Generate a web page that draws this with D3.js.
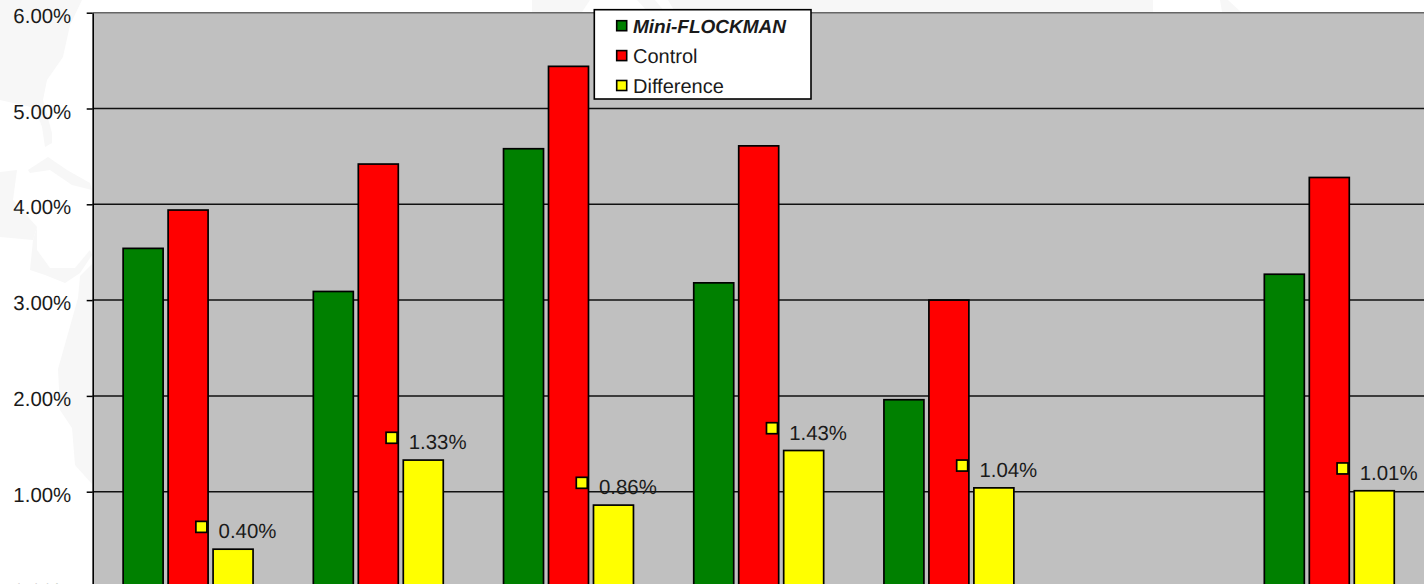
<!DOCTYPE html>
<html>
<head>
<meta charset="utf-8">
<script src="https://cdn.jsdelivr.net/npm/d3@7"></script>
<style>
  html, body { margin: 0; padding: 0; background: #fff; overflow: hidden; }
  svg { display: block; }
  text { font-family: "Liberation Sans", Arial, sans-serif; font-size: 20.4px; fill: #1a1a1a; text-rendering: geometricPrecision; }
</style>
</head>
<body>
<svg id="chart" width="1424" height="584"></svg>
<script>
const categories = ["Group 1", "Group 2", "Group 3", "Group 4", "Group 5", "Group 6", "Group 7"];
const seriesNames = ["Mini-FLOCKMAN", "Control", "Difference"];
const seriesColors = ["#008000", "#ff0000", "#ffff00"];
const miniFlockman = [3.54, 3.09, 4.58, 3.18, 1.96, null, 3.27];
const control = [3.94, 4.42, 5.44, 4.61, 3.00, null, 4.28];
const difference = [0.40, 1.33, 0.86, 1.43, 1.04, null, 1.01];
const yTicks = [0, 1, 2, 3, 4, 5, 6];

const seriesValues = [miniFlockman, control, difference];
const svg = d3.select("#chart");
const fmt = d => d.toFixed(2) + "%";

const y = d3.scaleLinear().domain([0, 6]).range([587.5, 12.7]);
const x = d3.scaleBand().domain(categories).range([93, 1424.4]).padding(0);
const xSeries = d3.scaleBand().domain(seriesNames).range([0, x.bandwidth()])
  .paddingInner(0.111).paddingOuter(0.67);

// Faint world-map backdrop behind the whole chart
const backdrop = svg.append("g").attr("fill", "#f7f7f7");
[
  "M0,0 L82,0 L70,25 L63,57 L47,80 L43,100 L52,133 L52,143 L45,147 L42,127 L35,108 L0,100 Z",
  "M0,172 L17,170 L13,200 L37,227 L33,240 L0,237 Z",
  "M28,170 L48,157 L67,170 L90,183 L92,190 L72,185 L50,170 L30,173 Z",
  "M33,240 L37,227 L37,250 L50,268 L75,268 L90,250 L92,255 L80,273 L65,283 L45,275 L30,270 Z",
  "M92,264 L80,276 L78,298 L58,369 L60,410 L72,428 L75,465 L92,484 Z",
  "M532,0 L590,0 L582,12 L532,12 Z",
  "M637,0 L655,0 L665,12 L648,12 Z",
  "M668,0 L1153,0 L1153,12 L675,12 Z",
  "M1220,0 L1228,0 L1241,12 L1222,12 Z"
].forEach(d => backdrop.append("path").attr("d", d));

// Plot area
svg.append("rect")
  .attr("x", 92.7).attr("y", y(6))
  .attr("width", 1424 - 92.7).attr("height", y(0) - y(6))
  .attr("fill", "#c0c0c0");

// Horizontal gridlines
svg.append("g").selectAll("line")
  .data(yTicks.filter(t => t > 0))
  .join("line")
  .attr("x1", 92.7).attr("x2", 1424)
  .attr("y1", d => y(d)).attr("y2", d => y(d))
  .attr("stroke", d => d === 6 ? "#666" : "#111")
  .attr("stroke-width", 1.5);

// Value axis
const yAxis = svg.append("g")
  .attr("transform", "translate(92.7,0)")
  .call(d3.axisLeft(y).tickValues(yTicks).tickFormat(fmt).tickSize(6).tickPadding(15.5).tickSizeOuter(0));
yAxis.select(".domain").attr("stroke", "#000").attr("stroke-width", 1.6);
yAxis.selectAll(".tick line").attr("stroke", "#000").attr("stroke-width", 1.5);
yAxis.selectAll(".tick text").attr("dy", "0.47em")
  .style("font-family", "'Liberation Sans', Arial, sans-serif").style("font-size", "20.4px").attr("fill", "#1a1a1a");

// Bars, one group per category
const groups = svg.append("g").selectAll("g")
  .data(categories)
  .join("g")
  .attr("transform", d => `translate(${x(d)},0)`);

seriesNames.forEach((name, s) => {
  groups.filter((_, i) => seriesValues[s][i] !== null)
    .append("rect")
    .attr("x", xSeries(name))
    .attr("width", xSeries.bandwidth())
    .attr("y", d => y(seriesValues[s][categories.indexOf(d)]))
    .attr("height", d => y(0) - y(seriesValues[s][categories.indexOf(d)]))
    .attr("fill", seriesColors[s])
    .attr("stroke", "#000")
    .attr("stroke-width", 1.7);
});

// Data labels on the Difference series, each with its legend key
const labelled = groups.filter((_, i) => difference[i] !== null);
const diffX = xSeries("Difference");
labelled.append("rect")
  .attr("x", diffX - 17.2)
  .attr("y", d => y(difference[categories.indexOf(d)]) - 27.8)
  .attr("width", 11).attr("height", 11)
  .attr("fill", "#ffff00").attr("stroke", "#000").attr("stroke-width", 1.7);
labelled.append("text")
  .attr("x", diffX + 5.5)
  .attr("y", d => y(difference[categories.indexOf(d)]) - 11)
  .text(d => fmt(difference[categories.indexOf(d)]));

// Legend box
const legend = svg.append("g");
legend.append("rect")
  .attr("x", 594.3).attr("y", 9.7).attr("width", 216.7).attr("height", 89.3)
  .attr("fill", "#fff").attr("stroke", "#000").attr("stroke-width", 1.6);
const legendRows = legend.selectAll("g")
  .data(seriesNames)
  .join("g")
  .attr("transform", (_, i) => `translate(0,${i * 29.9})`);
legendRows.append("rect")
  .attr("x", 616.7).attr("y", 20.7).attr("width", 10).attr("height", 10)
  .attr("fill", (_, i) => seriesColors[i]).attr("stroke", "#000").attr("stroke-width", 1.6);
legendRows.append("text")
  .attr("x", 633).attr("y", 33)
  .style("font-size", (_, i) => i === 0 ? "19px" : "20px")
  .style("font-weight", (_, i) => i === 0 ? "bold" : "normal")
  .style("font-style", (_, i) => i === 0 ? "italic" : "normal")
  .text(d => d);
</script>
</body>
</html>
